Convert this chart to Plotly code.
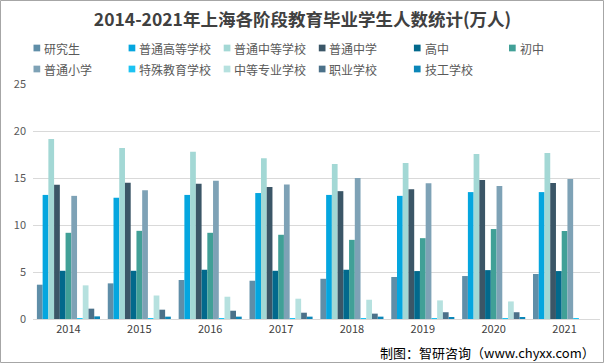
import plotly.graph_objects as go

years = ["2014", "2015", "2016", "2017", "2018", "2019", "2020", "2021"]

研究生 = [3.65, 3.79, 4.15, 4.07, 4.28, 4.47, 4.57, 4.79]
普通高等学校 = [13.2, 12.9, 13.2, 13.4, 13.2, 13.1, 13.5, 13.5]
普通中等学校 = [19.15, 18.2, 17.8, 17.1, 16.5, 16.6, 17.55, 17.66]
普通中学 = [14.27, 14.5, 14.4, 14.05, 13.6, 13.8, 14.8, 14.47]
高中 = [5.13, 5.13, 5.24, 5.13, 5.24, 5.1, 5.2, 5.1]
初中 = [9.17, 9.38, 9.17, 8.96, 8.42, 8.6, 9.57, 9.36]
普通小学 = [13.1, 13.7, 14.7, 14.3, 15.0, 14.45, 14.15, 14.9]
特殊教育学校 = [0.08, 0.08, 0.08, 0.08, 0.08, 0.08, 0.08, 0.08]
中等专业学校 = [3.58, 2.5, 2.37, 2.16, 2.05, 1.98, 1.87, None]
职业学校 = [1.1, 0.99, 0.88, 0.67, 0.57, 0.72, 0.72, None]
技工学校 = [0.28, 0.25, 0.25, 0.25, 0.25, 0.21, 0.21, None]

series_names = ["研究生", "普通高等学校", "普通中等学校", "普通中学", "高中", "初中",
                "普通小学", "特殊教育学校", "中等专业学校", "职业学校", "技工学校"]
series_values = [研究生, 普通高等学校, 普通中等学校, 普通中学, 高中, 初中,
                 普通小学, 特殊教育学校, 中等专业学校, 职业学校, 技工学校]
colors = ["#5f8ea8", "#05a6df", "#a3d8d5", "#3b5667", "#02698c", "#41a097",
          "#7ea2b6", "#1cc3f3", "#b6e1df", "#4b7189", "#0b86b8"]

fig = go.Figure()
for name, vals, c in zip(series_names, series_values, colors):
    fig.add_trace(go.Bar(name=name, x=years, y=vals, showlegend=False,
                         marker=dict(color=c, line=dict(width=0))))

W, H = 605, 364
L, R, T, B = 33, 5, 84, 45
pw = W - L - R
ph = H - T - B


def px_x(x):
    return (x - L) / pw


def px_y(y):
    return (H - B - y) / ph


shapes = [dict(type="rect", xref="paper", yref="paper",
               x0=px_x(0.5), x1=px_x(W - 1.5), y0=px_y(H - 1.5), y1=px_y(0.5),
               line=dict(color="#a6a6a6", width=1))]
annotations = [dict(text="制图：智研咨询（www.chyxx.com）", xref="paper", yref="paper",
                    x=px_x(597), xanchor="right", y=px_y(352), yanchor="middle",
                    showarrow=False, font=dict(size=13, color="#000000"))]

# manual legend: 6 columns, 2 rows
col_x0 = 33.5
col_dx = 95.1
row_y = [48, 69]
sq = 6.7
for i, (name, c) in enumerate(zip(series_names, colors)):
    r, col = divmod(i, 6)
    x = col_x0 + col * col_dx
    y = row_y[r]
    shapes.append(dict(type="rect", xref="paper", yref="paper",
                       x0=px_x(x), x1=px_x(x + sq), y0=px_y(y + sq / 2), y1=px_y(y - sq / 2),
                       fillcolor=c, line=dict(width=0)))
    annotations.append(dict(text=name, xref="paper", yref="paper",
                            x=px_x(x + sq + 2), xanchor="left", y=px_y(y + 0.5), yanchor="middle",
                            showarrow=False, font=dict(size=12, color="#595959")))

fig.update_layout(
    width=W, height=H,
    margin=dict(l=L, r=R, t=T, b=B, autoexpand=False),
    paper_bgcolor="white", plot_bgcolor="white",
    barmode="group", bargap=0.11, bargroupgap=0,
    showlegend=False,
    font=dict(family="Noto Sans CJK SC, Microsoft YaHei, sans-serif", color="#595959", size=11),
    title=dict(text="<b>2014-2021年上海各阶段教育毕业学生人数统计(万人)</b>",
               x=px_x(W / 2), xanchor="center", xref="paper", y=1 - 20 / H, yanchor="middle",
               font=dict(size=17.5, color="#404040")),
    xaxis=dict(showgrid=False, showline=True, linecolor="#d9d9d9", linewidth=1,
               ticks="", tickfont=dict(size=11, color="#404040")),
    yaxis=dict(range=[0, 25], dtick=5, showgrid=True, gridcolor="#d9d9d9", gridwidth=1,
               zeroline=False, showline=False, ticks="", ticklabelstandoff=6,
               tickfont=dict(size=11, color="#595959")),
    shapes=shapes,
    annotations=annotations,
)

fig.write_html("out.html", config={"displayModeBar": False},
               post_script="document.body.style.margin='0';document.body.style.padding='0';")
